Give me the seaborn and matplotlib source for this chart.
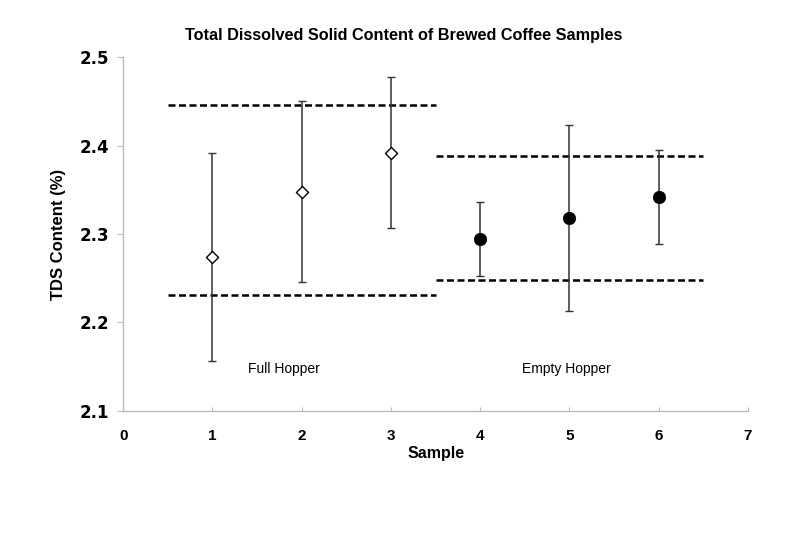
import matplotlib
matplotlib.use("Agg")
import matplotlib.pyplot as plt
import seaborn as sns
import pandas as pd

samples = [1, 2, 3, 4, 5, 6]
tds = [2.274, 2.348, 2.392, 2.294, 2.318, 2.342]
err_low = [2.157, 2.246, 2.307, 2.252, 2.213, 2.289]
err_high = [2.392, 2.450, 2.477, 2.336, 2.423, 2.395]
groups = ["Full Hopper", "Full Hopper", "Full Hopper", "Empty Hopper", "Empty Hopper", "Empty Hopper"]

# control limits per group
limit_groups = ["Full Hopper", "Empty Hopper"]
limit_x0 = [0.5, 3.5]
limit_x1 = [3.5, 6.5]
limit_low = [2.231, 2.248]
limit_high = [2.446, 2.388]
label_x = [1.80, 4.96]
label_y = [2.147, 2.147]

sns.set_theme(style="white")
plt.rcParams['font.family'] = ['Liberation Sans', 'DejaVu Sans']
plt.rcParams['text.color'] = 'black'
plt.rcParams['axes.labelcolor'] = 'black'
plt.rcParams['xtick.color'] = 'black'
plt.rcParams['ytick.color'] = 'black'

df = pd.DataFrame({"Sample": samples, "TDS": tds, "lo": err_low, "hi": err_high, "group": groups})

fig = plt.figure(figsize=(8, 5.33), dpi=100)
ax = fig.add_axes([0.154, 0.229, 0.781, 0.664])

# error bars
for _, r in df.iterrows():
    ax.errorbar(r["Sample"], r["TDS"],
                yerr=[[r["TDS"] - r["lo"]], [r["hi"] - r["TDS"]]],
                fmt="none", ecolor="#333333", elinewidth=1.1, capsize=3, capthick=1.0, zorder=2)

# dashed limit lines
for x0, x1, lo, hi in zip(limit_x0, limit_x1, limit_low, limit_high):
    ax.hlines([lo, hi], x0, x1, colors="black", linestyles=(0, (2.8, 1.4)), linewidth=1.8, zorder=1)

full = df[df["group"] == "Full Hopper"]
empty = df[df["group"] == "Empty Hopper"]
sns.scatterplot(data=full, x="Sample", y="TDS", marker="D", s=38, color="white",
                edgecolor="black", linewidth=1.0, ax=ax, zorder=3, legend=False)
sns.scatterplot(data=empty, x="Sample", y="TDS", marker="o", s=80, color="black",
                edgecolor="black", linewidth=0.5, ax=ax, zorder=3, legend=False)

for name, lx, ly in zip(limit_groups, label_x, label_y):
    ax.text(lx, ly, name, ha="center", va="center", fontsize=10, color="black")

ax.set_xlim(0, 7)
ax.set_ylim(2.1, 2.5)
ax.set_xticks(range(0, 8))
ax.set_yticks([2.1, 2.2, 2.3, 2.4, 2.5])
ax.set_yticklabels([f"{v:.1f}" for v in [2.1, 2.2, 2.3, 2.4, 2.5]])

for lab in ax.get_yticklabels():
    lab.set_fontfamily("DejaVu Sans")
    lab.set_fontweight("bold")
for lab in ax.get_xticklabels():
    lab.set_fontfamily("Liberation Sans")
    lab.set_fontweight("bold")
ax.tick_params(axis="y", labelsize=12, length=4, width=0.8, color="#bbbbbb", direction="out", left=True, pad=6)
ax.tick_params(axis="x", labelsize=11, length=3, width=0.8, color="#bbbbbb", direction="in", bottom=True, pad=13)

for s in ["top", "right"]:
    ax.spines[s].set_visible(False)
for s in ["left", "bottom"]:
    ax.spines[s].set_color("#bbbbbb")
    ax.spines[s].set_linewidth(1.0)

ax.set_xlabel("Sample", fontsize=11.5, fontweight="bold", labelpad=2)
ax.set_ylabel("TDS Content (%)", fontsize=12, fontweight="bold", labelpad=10)
fig.text(0.504, 0.934, "Total Dissolved Solid Content of Brewed Coffee Samples",
         ha="center", va="center", fontsize=11.7, fontweight="bold")

fig.savefig("out.png", dpi=100, facecolor="white")
